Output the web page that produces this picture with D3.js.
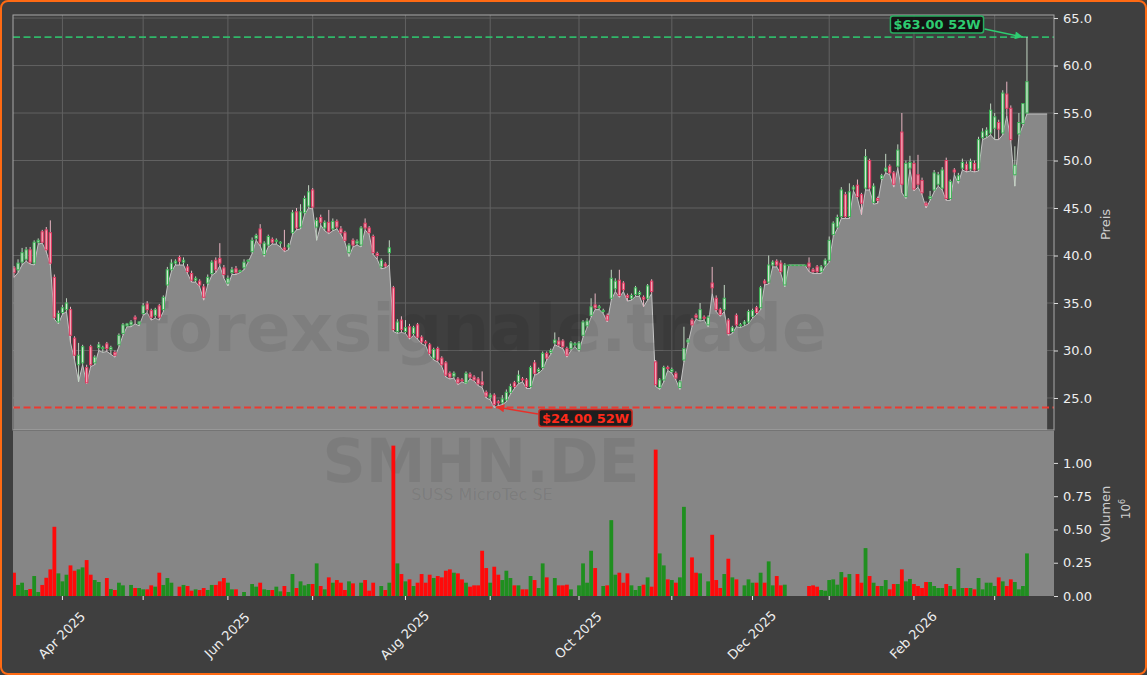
<!DOCTYPE html>
<html><head><meta charset="utf-8">
<script src="https://cdn.jsdelivr.net/npm/d3@7/dist/d3.min.js"></script>
<style>html,body{margin:0;padding:0;background:#3f3f3f;overflow:hidden}svg{display:block}</style>
</head><body>
<script>
// ---------------- DATA ----------------
const openP = [38.7,38.5,39.3,39.6,40.6,39.2,41.4,42.5,42.7,42.4,
37.7,33.0,34.0,34.3,34.3,31.3,28.5,28.7,28.2,30.4,
28.7,30.3,30.2,30.7,30.1,29.8,30.6,31.8,32.6,32.7,
33.5,32.8,33.9,34.9,34.2,33.7,34.7,34.3,36.9,38.5,
39.2,39.8,39.3,38.8,38.1,37.4,37.3,36.7,37.1,38.1,
39.5,39.7,38.7,37.1,38.2,38.6,38.3,38.7,39.4,40.4,
41.8,42.8,40.1,41.1,41.7,41.5,41.3,40.8,40.9,42.4,
44.6,43.0,44.5,45.2,46.9,43.0,44.0,42.9,43.5,42.8,
43.6,42.8,42.4,40.3,41.6,41.3,41.1,43.4,42.9,42.0,
40.2,38.8,39.1,40.3,36.6,32.0,33.2,32.0,32.5,31.8,
32.7,31.4,30.9,30.6,29.2,30.2,29.2,28.7,27.6,27.3,
27.0,26.9,26.6,27.5,27.2,27.0,26.7,25.6,25.1,25.3,
24.6,24.5,24.8,25.6,26.6,26.7,27.0,26.9,26.2,28.7,
27.8,28.2,29.7,29.8,30.8,31.0,31.0,30.2,30.2,30.6,
30.1,31.6,32.6,33.7,34.8,34.5,34.1,33.7,35.5,36.5,
37.4,37.1,35.8,35.5,35.9,35.9,35.6,35.5,37.3,28.8,
26.1,26.9,28.2,27.8,27.6,26.1,29.0,30.9,33.2,33.7,
33.3,33.5,32.7,37.1,35.5,34.3,34.3,33.2,32.0,33.7,
32.6,32.8,33.0,33.6,34.5,34.5,37.3,37.2,39.0,39.4,
39.2,36.9,39.0,39.0,39.0,39.0,39.0,39.2,38.5,38.8,
38.3,39.0,39.5,42.2,43.0,44.1,46.4,44.1,47.0,47.4,
46.4,47.1,50.0,45.6,46.0,48.1,48.9,49.4,48.7,49.4,
53.0,46.2,49.2,49.7,48.5,47.9,45.5,46.0,46.9,47.5,
47.1,50.0,46.0,49.0,47.9,49.2,49.6,49.1,49.7,49.1,
52.4,52.6,52.9,53.4,54.0,52.9,57.0,55.5,48.5,52.8,
53.9,55.0];
const highP = [38.9,39.6,40.8,40.9,40.9,41.6,41.8,42.7,43.0,43.7,
38.0,34.2,34.8,35.5,34.6,31.5,30.8,30.6,28.5,30.6,
29.5,30.9,30.5,30.9,30.5,30.0,31.8,32.9,32.9,33.2,
33.7,33.1,35.0,35.2,34.4,34.5,34.9,35.8,38.8,39.6,
39.6,40.0,39.8,39.1,38.4,37.8,37.5,37.0,38.0,39.5,
39.8,41.3,39.0,37.9,38.8,38.9,38.5,39.6,39.6,41.9,
42.3,43.3,41.5,42.2,41.9,41.8,41.5,42.7,41.3,44.8,
45.0,45.4,46.3,47.4,47.1,44.0,44.3,43.7,44.8,43.9,
43.8,43.1,42.6,41.3,41.8,41.7,43.1,43.9,43.1,42.2,
40.4,39.7,39.3,41.6,36.8,33.3,33.6,33.2,32.8,32.6,
32.9,31.6,31.1,30.8,30.3,30.4,29.4,28.9,27.8,27.8,
27.2,27.1,27.8,27.7,27.4,27.2,27.8,25.8,25.5,25.5,
24.8,25.3,25.9,26.5,26.8,27.9,27.2,27.1,28.4,29.0,
28.2,29.9,29.9,30.2,31.9,31.4,31.2,30.4,31.0,30.9,
31.0,33.2,33.4,35.5,36.0,34.8,34.4,33.9,38.5,37.6,
38.5,37.3,36.0,36.0,36.8,36.3,35.8,37.0,37.5,29.0,
27.1,28.4,28.4,28.2,27.8,26.9,32.5,31.3,33.4,33.9,
35.0,33.7,33.7,38.8,35.8,34.5,36.9,33.4,32.6,33.9,
32.9,33.2,34.3,34.4,34.7,36.8,37.5,40.0,39.5,39.6,
39.5,39.2,39.0,39.0,39.0,39.0,39.0,39.8,38.7,39.0,
39.0,39.7,42.0,43.6,44.3,47.2,46.7,47.6,47.4,48.0,
46.6,51.2,50.2,47.6,46.2,48.6,50.7,49.6,48.9,51.7,
55.0,50.0,50.5,50.0,50.6,48.2,45.7,46.8,49.0,48.8,
49.3,50.3,48.0,49.2,48.7,50.2,49.9,50.2,50.0,52.5,
53.4,53.5,56.0,55.0,54.3,57.4,58.3,55.8,51.5,55.0,
56.0,63.0];
const lowP = [37.7,38.2,39.0,39.4,39.1,39.0,41.2,41.3,40.4,39.0,
33.3,32.8,33.8,34.1,30.8,29.0,26.7,28.5,26.5,28.3,
28.5,30.0,29.8,29.9,29.6,29.3,30.4,31.6,32.5,32.5,
32.8,32.6,33.7,34.0,33.2,33.4,33.2,34.1,36.7,38.3,
39.0,39.0,39.0,38.1,37.2,37.2,36.7,35.3,36.9,37.9,
38.2,38.9,37.6,36.8,38.0,38.0,38.2,38.5,39.3,40.2,
41.6,41.0,39.9,40.9,41.2,41.2,40.9,40.4,40.6,42.2,
42.7,42.8,44.3,45.0,44.9,41.6,43.2,42.6,42.3,42.6,
42.8,42.2,41.4,39.9,40.9,41.1,40.9,42.7,42.2,40.1,
39.6,38.6,38.7,39.0,32.0,31.8,31.9,31.8,31.2,31.6,
31.2,30.7,30.5,29.5,29.0,28.8,28.3,27.2,27.0,27.1,
26.4,26.7,26.5,27.0,26.8,26.3,26.1,25.0,24.8,24.0,
24.2,24.3,24.6,25.4,26.0,26.5,26.7,26.0,26.0,27.4,
27.6,28.0,29.0,29.6,30.6,30.4,30.2,29.3,30.0,30.4,
29.9,31.4,32.4,33.5,34.3,34.3,33.9,33.0,35.3,36.2,
35.6,36.2,35.2,35.3,35.7,35.7,34.6,35.3,36.0,26.2,
25.9,26.7,27.9,27.6,26.9,25.9,28.8,30.7,32.5,33.3,
33.1,33.2,32.5,36.0,34.1,33.6,34.1,31.6,31.8,32.5,
32.4,32.6,32.8,33.4,33.8,34.3,36.9,37.0,38.8,38.8,
38.1,36.7,39.0,39.0,39.0,39.0,39.0,38.3,38.1,38.1,
38.1,38.8,39.3,42.0,42.8,43.9,43.9,43.9,46.8,46.0,
44.3,46.9,46.9,45.4,45.5,47.9,48.7,48.5,47.2,49.2,
46.6,46.0,49.0,46.8,47.2,46.4,45.0,45.8,46.7,47.3,
46.9,45.8,45.8,48.5,47.6,49.0,48.8,48.9,48.8,48.9,
52.2,52.4,52.7,52.2,52.2,52.7,54.7,52.0,47.3,52.6,
53.7,54.9];
const closeP = [38.2,39.2,40.3,40.6,39.3,41.4,41.6,41.4,40.6,39.2,
33.5,33.9,34.5,35.0,31.6,29.5,29.5,30.4,26.6,28.5,
29.3,30.6,30.3,30.2,30.3,29.5,31.6,32.7,32.8,33.0,
33.3,33.0,34.7,34.3,33.5,34.3,33.5,35.6,38.5,39.2,
39.4,39.4,39.5,38.3,37.4,37.6,36.9,35.6,37.7,39.3,
38.5,39.2,38.0,37.6,38.5,38.2,38.4,39.3,39.5,41.6,
42.1,41.3,41.3,42.0,41.4,41.6,41.4,40.6,41.1,44.5,
42.9,44.6,46.0,46.7,45.1,43.7,43.5,43.5,42.5,43.6,
43.0,42.4,41.6,41.1,41.1,41.5,42.9,42.9,42.4,40.3,
40.0,39.5,38.9,40.8,32.2,33.0,32.2,32.4,31.4,32.4,
31.4,30.9,30.8,29.7,30.1,29.0,28.5,27.4,27.2,27.6,
26.6,26.8,27.6,27.2,26.9,26.5,26.4,25.2,25.3,24.3,
24.5,24.9,25.6,26.2,26.2,27.4,26.9,26.2,28.2,27.6,
28.0,29.7,29.2,30.0,31.1,30.6,30.4,29.5,30.8,30.7,
30.8,33.0,33.1,34.6,34.5,34.6,34.2,33.2,37.6,37.3,
35.8,36.4,35.6,35.8,36.6,36.1,35.4,36.8,36.2,26.4,
26.9,28.2,28.1,28.0,27.1,26.7,30.2,31.1,32.7,33.5,
34.3,33.4,33.5,36.6,34.3,33.8,35.5,31.8,32.4,32.7,
32.7,33.0,34.1,34.2,34.0,36.6,37.1,39.0,39.3,39.0,
38.3,39.0,39.0,39.0,39.0,39.0,39.0,38.8,38.3,38.3,
38.8,39.5,41.6,43.4,44.0,46.9,44.1,46.7,47.2,46.2,
45.5,50.4,47.1,47.3,45.8,48.4,49.2,48.7,47.5,51.1,
47.5,49.7,49.8,47.0,47.5,46.6,45.3,46.2,48.7,48.5,
49.0,46.0,47.8,48.8,48.4,49.8,49.0,49.9,49.0,52.2,
53.0,53.2,55.3,54.6,53.3,57.1,55.5,52.2,49.5,54.0,
56.0,58.3];
// volume in millions
const volume = [.175,.083,.10,.045,.052,.15,.03,.083,.137,.20,
.52,.17,.11,.16,.23,.19,.20,.215,.27,.16,
.12,.105,0,.135,.053,.045,.10,.08,0,.083,
.06,.06,.05,.05,.08,.07,.175,.083,.135,.10,
0,.07,.083,.075,.04,.05,.045,.06,.045,.083,
.083,.11,.135,.10,.05,.05,0,.03,0,.09,
.07,.10,.05,.045,.045,.07,.035,.075,.03,.165,
.06,.11,.08,.09,.09,.245,.075,.05,.14,.10,
.12,.10,.045,.11,.095,0,.10,.12,.04,.10,
0,.075,.045,.10,1.13,.245,.165,.11,.125,.075,
.10,.165,.10,.16,.135,.15,.14,.19,.20,.175,
.17,.125,.10,.07,.08,.08,.34,.21,.10,.22,
.16,.12,.19,.135,.08,.08,.05,.05,.15,.12,
.06,.245,.14,0,.135,.08,.08,.085,.05,0,
.08,.245,.10,.34,.21,0,.075,.08,.57,.16,
.175,.10,.17,.08,.045,.075,.085,.14,.07,1.10,
.32,.23,.125,.12,.10,.14,.67,0,.29,.175,
.17,0,.11,.46,.12,.06,.165,.28,.14,.125,
0,.08,.125,.10,.10,.175,.10,.26,.08,.15,
.08,.085,0,0,0,0,0,.075,.08,.07,
.045,.04,.12,.125,.085,.18,.14,.165,0,.165,
.10,.36,.15,.10,.075,.075,.12,.05,.09,.09,
.20,.11,.128,.09,.075,.06,.105,.105,.075,.06,
.06,.09,.075,.05,.21,.06,.06,.06,.05,.135,
.05,.10,.10,.075,.14,.11,.075,.125,.105,.05,
.075,.32];
// month ticks: trading-day index of first session in month
const monthTickIdx = [12,32,53,74,97,118,140,163,183,202,223,243];
const monthLabels = ["Apr 2025","","Jun 2025","","Aug 2025","","Oct 2025","","Dec 2025","","Feb 2026",""];
const priceTicks = [25,30,35,40,45,50,55,60,65];
const volumeTicks = [0,0.25,0.5,0.75,1.0];
const high52 = 63.00, low52 = 24.00;
const ticker = "SMHN.DE", companyName = "SUSS MicroTec SE", brand = "forexsignale.trade";
const priceLabel = "Preis", volumeLabel = "Volumen";

// ---------------- LAYOUT ----------------
const W = 1147, H = 675;
const pL = 13, pR = 1054, pT = 15, pB = 430, vT = 431, vB = 596;
const FONT = "'DejaVu Sans', 'Liberation Sans', sans-serif";
const n = closeP.length;
const areaEndIdx = 256;

const svg = d3.select("body").append("svg").attr("width", W).attr("height", H);
svg.append("rect").attr("x", 1).attr("y", 1).attr("width", W - 2).attr("height", H - 2)
  .attr("rx", 7).attr("fill", "#3f3f3f").attr("stroke", "#ff6a13").attr("stroke-width", 2);

const x = d3.scaleLinear().domain([-0.25, 257.7]).range([pL, pR]);
const yP = d3.scaleLinear().domain([21.63, 65.32]).range([pB, pT]);
const yV = d3.scaleLinear().domain([0, 1.24]).range([vB, vT]);

const defs = svg.append("defs");
defs.append("clipPath").attr("id", "cp").append("rect").attr("x", pL).attr("y", pT).attr("width", pR - pL).attr("height", pB - pT);
defs.append("clipPath").attr("id", "cv").append("rect").attr("x", pL).attr("y", vT).attr("width", pR - pL).attr("height", vB - vT);
function marker(id, col) {
  defs.append("marker").attr("id", id).attr("viewBox", "0 0 10 10").attr("refX", 10).attr("refY", 5)
    .attr("markerWidth", 9).attr("markerHeight", 8).attr("markerUnits", "userSpaceOnUse").attr("orient", "auto")
    .append("path").attr("d", "M0,0 L10,5 L0,10 z").attr("fill", col);
}
marker("ag", "#2ecc71");
marker("ar", "#e8302a");

// ---------------- PRICE PANEL ----------------
const gP = svg.append("g");
gP.append("g").selectAll("line").data(monthTickIdx).join("line")
  .attr("x1", d => x(d)).attr("x2", d => x(d)).attr("y1", pT).attr("y2", pB)
  .attr("stroke", "#626262").attr("stroke-width", 1);
gP.append("g").selectAll("line").data(priceTicks).join("line")
  .attr("x1", pL).attr("x2", pR).attr("y1", d => yP(d)).attr("y2", d => yP(d))
  .attr("stroke", "#626262").attr("stroke-width", 1);

const areaIdx = d3.range(n).concat([areaEndIdx]);
const lowAt = i => lowP[Math.min(i, n - 1)];
const gA = gP.append("g").attr("clip-path", "url(#cp)");
gA.append("path").datum(areaIdx)
  .attr("d", d3.area().x(i => x(i)).y0(pB).y1(i => yP(lowAt(i))))
  .attr("fill", "#888888");
gA.append("path").datum(areaIdx)
  .attr("d", d3.line().x(i => x(i)).y(i => yP(lowAt(i))))
  .attr("fill", "none").attr("stroke", "#c4c4c4").attr("stroke-width", 1);

gA.append("text").attr("x", 483).attr("y", 351).attr("text-anchor", "middle")
  .style("font", `bold 66px ${FONT}`).attr("fill", "#000").attr("fill-opacity", 0.07).text(brand);

// dashed 52W lines
gP.append("line").attr("x1", pL).attr("x2", pR).attr("y1", yP(high52)).attr("y2", yP(high52))
  .attr("stroke", "#2ecc71").attr("stroke-opacity", 0.85).attr("stroke-width", 1.7).attr("stroke-dasharray", "7,3.5");
gP.append("line").attr("x1", pL).attr("x2", pR).attr("y1", yP(low52)).attr("y2", yP(low52))
  .attr("stroke", "#ea3a32").attr("stroke-opacity", 1).attr("stroke-width", 1.8).attr("stroke-dasharray", "7,3.5");

// candles
const idx = d3.range(n);
const up = i => closeP[i] >= openP[i];
const gC = gP.append("g").attr("clip-path", "url(#cp)");
gC.selectAll("line").data(idx).join("line")
  .attr("x1", i => x(i)).attr("x2", i => x(i))
  .attr("y1", i => yP(highP[i])).attr("y2", i => yP(lowP[i]))
  .attr("stroke", i => up(i) ? "#c2d6c3" : "#e9b6c3").attr("stroke-width", 1);
const bw = 2.3;
gC.selectAll("rect").data(idx).join("rect")
  .attr("x", i => x(i) - bw / 2).attr("width", bw)
  .attr("y", i => yP(Math.max(openP[i], closeP[i])))
  .attr("height", i => Math.max(0.6, Math.abs(yP(openP[i]) - yP(closeP[i]))))
  .attr("fill", i => up(i) ? "#d6e6d6" : "#f2a8b8")
  .attr("stroke", i => up(i) ? "#3cb455" : "#e03a62").attr("stroke-width", 1);

// spines
gP.append("rect").attr("x", pL).attr("y", pT).attr("width", pR - pL).attr("height", pB - pT)
  .attr("fill", "none").attr("stroke", "#a9a9a9").attr("stroke-width", 1);

// price axis
const ay = svg.append("g").attr("transform", `translate(${pR},0)`)
  .call(d3.axisRight(yP).tickValues(priceTicks).tickFormat(d3.format(".1f")).tickSize(4).tickPadding(5));
ay.select(".domain").remove();
ay.selectAll("line").attr("stroke", "#dddddd");
ay.selectAll("text").attr("fill", "#eeeeee").style("font", `13px ${FONT}`);
svg.append("text").attr("transform", `translate(1110,${(pT + pB) / 2 + 2}) rotate(-90)`)
  .attr("text-anchor", "middle").style("font", `13px ${FONT}`).attr("fill", "#cfcfcf").text(priceLabel);

// ---------------- VOLUME PANEL ----------------
const gV = svg.append("g");
gV.append("rect").attr("x", pL).attr("y", vT).attr("width", pR - pL).attr("height", vB - vT).attr("fill", "#868686");
gV.append("text").attr("x", 481).attr("y", 482).attr("text-anchor", "middle")
  .style("font", `bold 60px ${FONT}`).attr("fill", "#000").attr("fill-opacity", 0.07).text(ticker);
gV.append("text").attr("x", 482).attr("y", 500).attr("text-anchor", "middle")
  .style("font", `16px ${FONT}`).attr("fill", "#000").attr("fill-opacity", 0.08).text(companyName);
const vbw = 3.8;
gV.append("g").attr("clip-path", "url(#cv)").selectAll("rect").data(idx.filter(i => volume[i] > 0)).join("rect")
  .attr("x", i => x(i) - vbw / 2).attr("width", vbw)
  .attr("y", i => yV(volume[i])).attr("height", i => yV(0) - yV(volume[i]))
  .attr("fill", i => up(i) ? "#1f8f1f" : "#ff0a0a");

const av = svg.append("g").attr("transform", `translate(${pR},0)`)
  .call(d3.axisRight(yV).tickValues(volumeTicks).tickFormat(d3.format(".2f")).tickSize(4).tickPadding(5));
av.select(".domain").remove();
av.selectAll("line").attr("stroke", "#dddddd");
av.selectAll("text").attr("fill", "#eeeeee").style("font", `13px ${FONT}`);
svg.append("text").attr("transform", `translate(1110,514) rotate(-90)`)
  .attr("text-anchor", "middle").style("font", `13px ${FONT}`).attr("fill", "#cfcfcf").text(volumeLabel);
const exp = svg.append("text").attr("transform", `translate(1130,509) rotate(-90)`)
  .attr("text-anchor", "middle").style("font", `12px ${FONT}`).attr("fill", "#cfcfcf");
exp.append("tspan").text("10");
exp.append("tspan").attr("dy", -5).style("font-size", "8px").text("6");

// x axis
const gX = svg.append("g");
gX.selectAll("line").data(monthTickIdx).join("line")
  .attr("x1", d => x(d)).attr("x2", d => x(d)).attr("y1", vB).attr("y2", vB + 4)
  .attr("stroke", "#eeeeee").attr("stroke-width", 1);
gX.selectAll("text").data(monthTickIdx).join("text")
  .attr("transform", d => `translate(${x(d)},636) rotate(-45)`)
  .attr("text-anchor", "middle").attr("dominant-baseline", "middle")
  .style("font", `13px ${FONT}`).attr("fill", "#eeeeee")
  .text((d, i) => monthLabels[i]);

// ---------------- ANNOTATIONS ----------------
function tag(cx, cy, txt, col, textCol) {
  const g = svg.append("g");
  const t = g.append("text").attr("x", cx).attr("y", cy).attr("text-anchor", "middle").attr("dominant-baseline", "central")
    .style("font", `bold 13px ${FONT}`).attr("fill", textCol).text(txt);
  const w = t.node().getComputedTextLength() + 6;
  g.insert("rect", "text").attr("x", cx - w / 2).attr("y", cy - 8.5).attr("width", w).attr("height", 17)
    .attr("rx", 2.5).attr("fill", "#0c0c0c").attr("fill-opacity", 0.85).attr("stroke", col).attr("stroke-width", 1.5);
  return w;
}
const wg = tag(937, 24.5, `$${high52.toFixed(2)} 52W`, "#27ae60", "#2ecc71");
svg.append("line").attr("x1", 937 + wg / 2 + 1).attr("y1", 29).attr("x2", x(n - 1) - 4).attr("y2", yP(high52))
  .attr("stroke", "#2ecc71").attr("stroke-width", 1.5).attr("marker-end", "url(#ag)");
const wr = tag(585.5, 418, `$${low52.toFixed(2)} 52W`, "#d0281f", "#ff2a1a");
svg.append("line").attr("x1", 585.5 - wr / 2 - 1).attr("y1", 414).attr("x2", x(119) + 2).attr("y2", yP(low52) - 0.5)
  .attr("stroke", "#e8302a").attr("stroke-width", 1.5).attr("marker-end", "url(#ar)");
</script></body></html>
